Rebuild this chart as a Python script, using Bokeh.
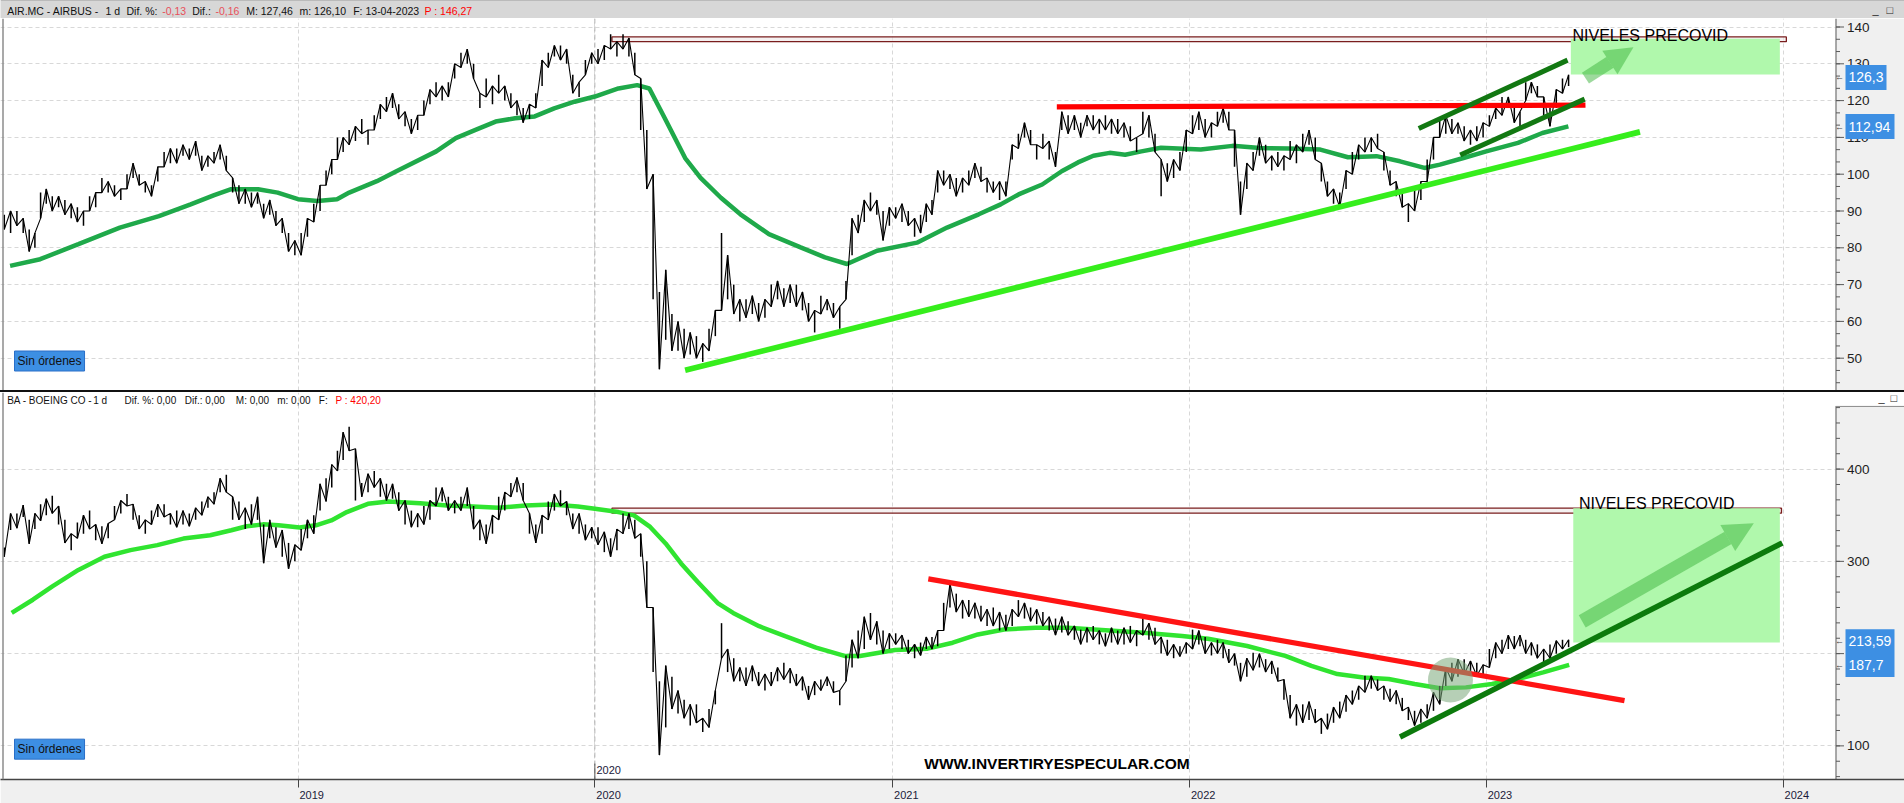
import numpy as np
import pandas as pd
from bokeh.plotting import figure
from bokeh.layouts import column
from bokeh.models import (Range1d, FixedTicker, CustomJSTickFormatter, Label, Arrow,
                          NormalHead, Span, Spacer)
from bokeh.core.properties import value
from bokeh.embed import file_html
from bokeh.resources import INLINE

# ---------------- weekly price ranges (4 values per month from Jan 2018, last 2 = early Apr 2023)
air_low = [
    # 2018
    85, 84, 86, 84, 79, 80, 88, 92, 90, 91, 89, 88, 87, 86, 90, 91,
    95, 95, 94, 93, 96, 99, 97, 95, 94, 98, 102, 103, 103, 105, 104, 105,
    101, 102, 103, 104, 101, 95, 92, 92, 91, 92, 88, 89, 86, 84, 79, 78,
    # 2019
    78, 83, 87, 90, 97, 100, 104, 106, 108, 109, 111, 108, 112, 115, 117, 118,
    115, 113, 111, 112, 116, 119, 121, 120, 121, 126, 129, 130, 126, 118, 121, 119,
    122, 120, 118, 116, 114, 115, 118, 124, 129, 132, 131, 130, 122, 121, 127, 130,
    # 2020
    130, 131, 134, 132, 134, 132, 127, 112, 96, 66, 47, 55, 52, 52, 50, 51,
    50, 49, 52, 56, 63, 66, 62, 60, 61, 62, 60, 61, 64, 66, 64, 65,
    64, 63, 60, 57, 62, 63, 61, 58, 66, 78, 84, 87, 90, 89, 82, 86,
    # 2021
    88, 87, 86, 83, 84, 87, 89, 95, 97, 96, 94, 95, 97, 99, 98, 95,
    95, 93, 94, 104, 107, 110, 108, 104, 107, 104, 102, 112, 111, 112, 110, 113,
    112, 111, 112, 111, 111, 110, 109, 106, 111, 110, 106, 94, 98, 99, 101, 106,
    # 2022
    111, 112, 110, 110, 113, 114, 112, 102, 89, 96, 101, 105, 103, 101, 102, 101,
    104, 103, 106, 108, 104, 98, 94, 92, 91, 96, 100, 104, 106, 106, 107, 101,
    97, 94, 91, 87, 90, 93, 98, 104, 110, 111, 111, 111, 109, 108, 109, 110,
    # 2023
    113, 115, 116, 118, 114, 113, 120, 122, 121, 116, 113, 118, 122, 124,
]
air_high = [
    # 2018
    89, 90, 90, 88, 85, 84, 95, 96, 94, 94, 93, 92, 91, 90, 94, 95,
    99, 98, 97, 96, 100, 103, 100, 98, 97, 102, 106, 107, 107, 108, 107, 109,
    105, 105, 106, 108, 105, 99, 97, 96, 95, 95, 92, 93, 90, 88, 84, 82,
    # 2019
    84, 88, 92, 97, 101, 104, 110, 110, 112, 113, 115, 112, 116, 119, 121, 122,
    119, 117, 115, 116, 120, 123, 125, 124, 125, 130, 133, 134, 130, 122, 126, 124,
    127, 124, 122, 120, 118, 119, 122, 131, 133, 135, 135, 134, 127, 125, 131, 133,
    # 2020
    134, 135, 138, 136, 138, 137, 133, 126, 112, 100, 68, 74, 62, 60, 58, 57,
    56, 54, 58, 63, 84, 78, 70, 66, 66, 67, 65, 66, 70, 71, 69, 70,
    70, 68, 65, 63, 67, 66, 65, 64, 71, 88, 89, 93, 95, 93, 90, 91,
    # 2021
    91, 92, 90, 88, 89, 92, 93, 101, 101, 100, 99, 99, 101, 103, 102, 99,
    98, 98, 98, 108, 111, 114, 112, 108, 111, 109, 106, 117, 116, 116, 114, 116,
    116, 115, 116, 115, 115, 114, 113, 110, 117, 116, 111, 104, 103, 104, 106, 112,
    # 2022
    116, 117, 115, 114, 117, 118, 117, 112, 98, 103, 106, 110, 108, 105, 106, 105,
    109, 108, 111, 112, 110, 103, 98, 96, 95, 101, 106, 108, 110, 110, 111, 106,
    101, 98, 96, 92, 96, 98, 104, 110, 115, 116, 115, 114, 113, 112, 113, 114,
    # 2023
    116, 118, 121, 121, 118, 117, 125, 125, 124, 121, 118, 123, 126, 127,
]
ba_low = [
    # 2018
    305, 334, 336, 348, 319, 335, 344, 350, 352, 340, 320, 312, 325, 330, 335, 323,
    319, 325, 345, 352, 360, 345, 335, 330, 340, 348, 348, 340, 337, 340, 338, 345,
    350, 358, 362, 375, 375, 345, 345, 335, 340, 345, 298, 325, 315, 305, 292, 300,
    # 2019
    312, 325, 330, 355, 365, 380, 398, 410, 420, 366, 370, 375, 380, 370, 366, 368,
    355, 340, 337, 337, 340, 345, 360, 365, 355, 352, 355, 360, 335, 323, 319, 330,
    345, 355, 370, 375, 366, 330, 320, 330, 345, 355, 360, 350, 335, 330, 323, 325,
    # 2020
    318, 310, 305, 312, 330, 335, 325, 305, 250, 180, 90, 120, 140, 135, 130, 122,
    125, 115, 120, 145, 195, 180, 170, 170, 165, 170, 165, 160, 165, 170, 172, 168,
    165, 160, 150, 155, 160, 165, 158, 144, 170, 185, 195, 205, 215, 210, 200, 205,
    # 2021
    210, 205, 200, 195, 198, 205, 205, 208, 225, 250, 245, 238, 240, 238, 235, 230,
    230, 225, 225, 230, 240, 238, 235, 232, 230, 225, 220, 223, 220, 215, 210, 212,
    215, 210, 208, 212, 210, 210, 212, 208, 220, 215, 210, 200, 198, 195, 197, 200,
    # 2022
    205, 210, 200, 198, 200, 195, 190, 187, 170, 175, 182, 185, 180, 178, 170, 150,
    130, 122, 125, 128, 125, 113, 118, 125, 130, 137, 145, 150, 158, 162, 160, 150,
    148, 145, 138, 128, 122, 125, 130, 138, 145, 165, 170, 175, 178, 176, 176, 175,
    # 2023
    185, 195, 200, 205, 205, 208, 200, 198, 195, 190, 195, 200, 205, 207,
]
ba_high = [
    # 2018
    315, 352, 352, 361, 345, 352, 362, 368, 371, 360, 345, 330, 342, 350, 355, 340,
    338, 341, 360, 366, 373, 362, 350, 345, 355, 362, 362, 352, 355, 355, 352, 358,
    365, 370, 375, 390, 394, 370, 365, 358, 362, 370, 340, 345, 337, 334, 320, 318,
    # 2019
    335, 345, 350, 384, 390, 405, 420, 440, 446, 422, 385, 395, 398, 390, 384, 384,
    375, 366, 355, 352, 360, 366, 380, 380, 370, 366, 370, 380, 360, 345, 340, 350,
    370, 375, 385, 391, 385, 352, 340, 350, 365, 373, 377, 365, 352, 352, 340, 337,
    # 2020
    337, 332, 325, 335, 352, 352, 345, 330, 300, 250, 170, 187, 175, 160, 150, 145,
    145, 130, 140, 160, 233, 205, 195, 185, 185, 187, 180, 178, 180, 185, 190, 184,
    178, 175, 165, 170, 172, 175, 170, 160, 198, 215, 225, 240, 244, 235, 225, 222,
    # 2021
    222, 220, 215, 210, 212, 218, 218, 225, 255, 276, 265, 258, 258, 255, 252, 248,
    250, 245, 242, 248, 258, 255, 250, 248, 245, 240, 238, 240, 235, 230, 226, 228,
    230, 225, 222, 228, 225, 228, 230, 225, 240, 233, 228, 218, 215, 210, 208, 212,
    # 2022
    226, 225, 218, 212, 215, 212, 205, 200, 190, 195, 201, 200, 194, 192, 185, 172,
    155, 145, 145, 148, 140, 130, 135, 142, 148, 155, 160, 165, 176, 176, 172, 165,
    162, 160, 152, 142, 138, 140, 145, 158, 165, 185, 190, 194, 194, 192, 190, 188,
    # 2023
    205, 212, 215, 220, 219, 220, 215, 212, 210, 205, 210, 214, 215, 215,
]

# ---------------- 200-session moving averages
air_ma_dates = ["2018-01-12", "2018-02-18", "2018-04-06", "2018-05-27", "2018-07-14", "2018-08-22",
                "2018-09-20", "2018-10-10", "2018-11-13", "2018-12-07",
                "2019-01-01", "2019-01-25", "2019-02-18", "2019-03-05", "2019-04-08", "2019-05-02",
                "2019-06-20", "2019-07-14", "2019-08-08", "2019-09-01", "2019-09-25", "2019-10-19",
                "2019-11-12", "2019-12-07",
                "2020-01-01", "2020-01-30", "2020-02-22", "2020-03-08", "2020-03-27", "2020-04-21",
                "2020-05-10", "2020-06-04", "2020-06-28", "2020-08-02", "2020-09-10", "2020-10-10",
                "2020-11-06", "2020-12-13",
                "2021-01-31", "2021-03-09", "2021-04-17", "2021-05-14", "2021-06-05", "2021-07-04",
                "2021-07-28", "2021-08-17", "2021-09-05", "2021-09-25", "2021-10-14", "2021-11-03",
                "2021-11-27",
                "2022-01-15", "2022-02-23", "2022-03-29", "2022-05-03", "2022-06-11", "2022-07-15",
                "2022-08-19", "2022-09-17", "2022-10-17", "2022-11-05", "2022-12-04",
                "2023-01-01", "2023-02-09", "2023-03-11", "2023-04-12"]
air_ma = [75.1, 76.9, 81.0, 85.5, 88.6, 91.8, 94.3, 95.9, 95.9, 95.0,
          93.2, 92.7, 93.2, 95.0, 98.1, 100.8, 106.2, 109.8, 112.1, 114.3, 115.2, 115.7, 117.9, 119.7,
          121.1, 123.3, 124.2, 123.3, 115.2, 104.4, 99.0, 93.6, 89.1, 83.7, 80.1, 77.4, 75.6, 79.2,
          81.4, 85.5, 89.1, 91.8, 94.5, 97.2, 100.8, 103.2, 105.0, 105.8, 105.3, 106.2, 107.2,
          106.7, 107.7, 107.1, 107.0, 106.7, 104.6, 104.9, 103.5, 101.7, 102.6, 104.4,
          106.2, 108.5, 111.2, 113.0]
ba_ma_dates = ["2018-01-14", "2018-02-09", "2018-03-05", "2018-04-06", "2018-05-08", "2018-06-09",
               "2018-07-12", "2018-08-13", "2018-09-15", "2018-10-11", "2018-10-30", "2018-11-19",
               "2018-12-08",
               "2019-01-03", "2019-01-23", "2019-02-11", "2019-03-02", "2019-03-28", "2019-04-22",
               "2019-05-31", "2019-07-03", "2019-08-04", "2019-09-05", "2019-10-08", "2019-11-09",
               "2019-12-11",
               "2020-01-01", "2020-01-30", "2020-02-18", "2020-03-09", "2020-03-28", "2020-04-16",
               "2020-05-06", "2020-05-31", "2020-06-19", "2020-07-21", "2020-08-22", "2020-09-29",
               "2020-11-03", "2020-11-22",
               "2021-01-04", "2021-02-13", "2021-03-16", "2021-04-16", "2021-05-18", "2021-06-26",
               "2021-08-04", "2021-09-20", "2021-11-06", "2021-12-23",
               "2022-01-24", "2022-03-13", "2022-04-29", "2022-05-31", "2022-07-02", "2022-08-03",
               "2022-09-03", "2022-10-05", "2022-11-05", "2022-12-07",
               "2023-01-08", "2023-02-08", "2023-03-12", "2023-04-13"]
ba_ma = [244.1, 258.4, 272.8, 290.7, 305.0, 312.2, 317.6, 324.7, 328.3, 333.7, 338.0, 340.1, 339.1,
         336.6, 339.1, 344.4, 353.4, 362.4, 364.9, 363.1, 360.6, 359.5, 358.1, 360.6, 361.6, 359.5,
         357.0, 353.4, 349.8, 337.3, 319.4, 297.8, 278.1, 254.8, 244.1, 229.7, 219.0, 206.5, 197.5, 197.5,
         204.0, 205.4, 211.8, 220.8, 226.2, 228.0, 228.0, 225.4, 222.6, 219.0,
         216.1, 208.2, 197.5, 186.7, 177.8, 174.2, 172.4, 167.0, 162.4, 163.4,
         167.0, 172.4, 179.6, 187.8]

# ---------------- hand-drawn studies (dates, prices)
precovid_start = "2020-01-22"
air_precovid = [136.0, 137.3]
air_precovid_end = "2024-01-05"
ba_precovid = [352.2, 357.6]
ba_precovid_end = "2023-12-30"
air_target = ["2023-04-15", "2023-12-28"]
air_target_y = [127.1, 136.8]
ba_target = ["2023-04-18", "2023-12-28"]
ba_target_y = [212.0, 357.6]
air_resist_x, air_resist_y = ["2021-07-22", "2023-05-03"], [118.3, 118.75]
air_support_x, air_support_y = ["2020-04-21", "2023-07-09"], [46.7, 111.5]
air_chan_hi_x, air_chan_hi_y = ["2022-10-10", "2023-04-11"], [112.4, 131.0]
air_chan_lo_x, air_chan_lo_y = ["2022-11-30", "2023-05-02"], [105.2, 120.4]
ba_resist_x, ba_resist_y = ["2021-02-14", "2023-06-20"], [281.1, 149.0]
ba_support_x, ba_support_y = ["2022-09-17", "2023-12-31"], [109.6, 319.9]
air_arrow_x, air_arrow_y = ["2023-05-03", "2023-07-01"], [126.1, 134.5]
ba_arrow_x, ba_arrow_y = ["2023-04-29", "2023-11-26"], [235.0, 341.4]
ba_circle = ["2022-11-18", 171.4]
air_note = ["2023-04-17", 137.7]
ba_note = ["2023-04-25", 363.0]
web_note = ["2021-02-09", 80.8]
air_prices = [126.3, 112.94]
air_price_lbl = ["126,3", "112,94"]
ba_prices = [213.59, 187.7]
ba_price_lbl = ["213,59", "187,7"]
air_ticks = list(range(40, 141, 10))
ba_ticks = [100, 200, 300, 400]
years = list(range(2019, 2025))

air_hdr_text = ["AIR.MC - AIRBUS -", "1 d", "Dif. %:", "-0,13", "Dif.:", "-0,16",
                "M: 127,46", "m: 126,10", "F: 13-04-2023", "P : 146,27"]
air_hdr_px = [6.7, 105, 126, 161.7, 191.7, 215, 245.7, 299, 352.7, 424]
air_hdr_col = ["#111111", "#111111", "#111111", "#e8505a", "#111111", "#e8505a",
               "#111111", "#111111", "#111111", "#ff0000"]
ba_hdr_text = ["BA - BOEING CO -", "1 d", "Dif. %: 0,00", "Dif.: 0,00", "M: 0,00", "m: 0,00",
               "F:", "P : 420,20"]
ba_hdr_px = [6.7, 92.7, 124, 184.3, 235.3, 276.7, 318.3, 335]
ba_hdr_col = ["#111111"] * 7 + ["#ff0000"]

FONT = "Liberation Sans"


def ms(d):
    return pd.Timestamp(d).value / 1e6


def weekly_x(n):
    months = pd.date_range("2018-01-01", periods=(n + 3) // 4, freq="MS")
    return [ms(months[i // 4] + pd.Timedelta(days=(i % 4 + 0.5) * months[i // 4].days_in_month / 4))
            for i in range(n)]


# reference-pixel helpers (interface chrome only)
T0 = ms("2019-01-01")
PXD = 0.81331
DAY = 86400000.0


def X(px):
    return T0 + (px - 297.5) / PXD * DAY


def Yt(py):
    return 140 - (py - 26.5) / 3.68


def Yb(py):
    return 400 - (py - 469) / 0.9273


year_ms = [ms(f"{y}-01-01") for y in years]
W = 1904

# ---------------- header bar
hdr = figure(width=W, height=18, x_range=Range1d(0, W), y_range=Range1d(0, 18), title=None,
             toolbar_location=None, output_backend="svg", min_border=0,
             x_axis_location=None, y_axis_location=None,
             background_fill_color="#d7d7d7", border_fill_color="#d7d7d7", outline_line_color=None)
hdr.grid.visible = False
hdr.text(x=air_hdr_px, y=[8] * len(air_hdr_px), text=air_hdr_text,
         text_color=air_hdr_col, text_font=value(FONT), text_font_size="10.5px",
         text_baseline="middle", text_align="left")
hdr.segment(x0=[0, 0], y0=[0, 18], x1=[W, W], y1=[0, 18], line_color=["#b0b0b0", "#8a8a8a"], line_width=1)
hdr.text(x=[1872, 1886], y=[9, 9], text=["_", "\u25a1"], text_font=value(FONT), text_font_size="11px",
         text_color="#222222", text_baseline="middle")

xr = Range1d(X(0), X(1904))


def style(p):
    p.xgrid.ticker = FixedTicker(ticks=year_ms)
    p.xgrid.grid_line_color = "#d8d8d8"
    p.xgrid.grid_line_dash = "4 3"
    p.ygrid.grid_line_color = "#d8d8d8"
    p.ygrid.grid_line_dash = "4 3"
    p.add_layout(Span(location=ms("2020-01-01"), dimension="height", line_color="#b2b2b2",
                      line_dash="5 3", line_width=1, level="underlay"))
    p.add_layout(Span(location=X(2.5), dimension="height", line_color="#8c8c8c", line_width=1.5))


def right_axis(p, majors, minors, lo, hi):
    majors = [m for m in majors if lo <= m <= hi]
    minors = [m for m in minors if lo <= m <= hi]
    p.quad(left=[X(1835)], right=[X(1910)], bottom=[lo], top=[hi], fill_color="#f0f0f0", line_color=None)
    p.segment(x0=[X(1835.5)], y0=[lo], x1=[X(1835.5)], y1=[hi], line_color="#5a5a5a", line_width=1)
    p.segment(x0=[X(1835.5)] * len(minors), y0=minors, x1=[X(1839.5)] * len(minors), y1=minors,
              line_color="#5a5a5a", line_width=1)
    p.segment(x0=[X(1835.5)] * len(majors), y0=majors, x1=[X(1843.5)] * len(majors), y1=majors,
              line_color="#5a5a5a", line_width=1)
    p.text(x=[X(1846.5)] * len(majors), y=majors, text=[str(m) for m in majors], text_font=value(FONT),
           text_font_size="13.5px", text_color="#1e1e1e", text_baseline="middle", text_align="left")


def price_boxes(p, vals, labels, rights, half):
    p.quad(left=[X(1845)] * len(vals), right=[X(r) for r in rights],
           bottom=[v - half for v in vals], top=[v + half for v in vals],
           fill_color="#3d8fe3", line_color=None)
    p.text(x=[X(1848)] * len(vals), y=vals, text=labels, text_font=value(FONT), text_font_size="14px",
           text_color="white", text_baseline="middle", text_align="left")
    p.text(x=[X(1839)] * len(vals), y=vals, text=["\u2190"] * len(vals), text_font=value(FONT),
           text_font_size="9px", text_color="#444444", text_baseline="middle", text_align="center")


def price_bars(p, low, high):
    n = min(len(low), len(high))
    xs = weekly_x(n)
    p.segment(x0=xs, y0=low[:n], x1=xs, y1=high[:n], line_color="black", line_width=1.5)
    zig = [low[i] if i % 2 == 0 else high[i] for i in range(n)]
    p.line(xs, zig, line_color="black", line_width=1.1)


def tag(p, x, y, txt):
    p.add_layout(Label(x=x, y=y, text=txt, text_font=FONT, text_font_size="12px",
                       text_color="#111111", text_baseline="middle", text_align="left",
                       background_fill_color="#3d8fe3", border_line_color="#2a6fc8", padding=3))


def arrow(p, xs, ys, width, head):
    p.add_layout(Arrow(end=NormalHead(size=head, fill_color="#3cb43c", fill_alpha=0.5, line_color=None),
                       x_start=ms(xs[0]), y_start=ys[0], x_end=ms(xs[1]), y_end=ys[1],
                       line_color="#3cb43c", line_alpha=0.5, line_width=width))


# ---------------- AIRBUS panel
y1lo, y1hi = Yt(390), Yt(18)
p1 = figure(width=W, height=372, x_range=xr, y_range=Range1d(y1lo, y1hi), x_axis_type="datetime",
            x_axis_location=None, y_axis_location=None, title=None, toolbar_location=None,
            output_backend="svg", min_border=0, border_fill_color="#f0f0f0", outline_line_color=None)
style(p1)
p1.ygrid.ticker = FixedTicker(ticks=air_ticks)

p1.quad(left=[ms(precovid_start)], right=[ms(air_precovid_end)], bottom=[air_precovid[0]],
        top=[air_precovid[1]], fill_color="#efe8e8", fill_alpha=0.6, line_color="#7a1e1e", line_width=1.3)
p1.quad(left=[ms(air_target[0])], right=[ms(air_target[1])], bottom=[air_target_y[0]],
        top=[air_target_y[1]], fill_color="#b0f8ac", line_color=None)
p1.line([ms(d) for d in air_ma_dates], air_ma, line_color="#1fa94a", line_width=4.5)
price_bars(p1, air_low, air_high)
p1.line([ms(d) for d in air_support_x], air_support_y, line_color="#36ee1c", line_width=5.7)
p1.line([ms(d) for d in air_resist_x], air_resist_y, line_color="#ff0000", line_width=5.3)
p1.line([ms(d) for d in air_chan_hi_x], air_chan_hi_y, line_color="#127812", line_width=5)
p1.line([ms(d) for d in air_chan_lo_x], air_chan_lo_y, line_color="#127812", line_width=5)
arrow(p1, air_arrow_x, air_arrow_y, 13, 28)
p1.text(x=[ms(air_note[0])], y=[air_note[1]], text=["NIVELES PRECOVID"], text_font=value(FONT),
        text_font_size="16px", text_color="#000000", text_baseline="alphabetic")
tag(p1, X(14), Yt(360.5), "Sin órdenes")
right_axis(p1, air_ticks, list(np.arange(40, 142.1, 10 / 3)), y1lo, y1hi)
price_boxes(p1, air_prices, air_price_lbl, [1886, 1894], 12.5 / 3.68)

sep = Spacer(width=W, height=2, styles={"background-color": "#111111"})

# ---------------- BOEING panel
y2lo, y2hi = Yb(781), Yb(392)
p2 = figure(width=W, height=411, x_range=xr, y_range=Range1d(y2lo, y2hi), x_axis_type="datetime",
            x_axis_location="below", y_axis_location=None, title=None, toolbar_location=None,
            output_backend="svg", min_border_left=0, min_border_right=0, min_border_top=0,
            min_border_bottom=22, border_fill_color="#f0f0f0", outline_line_color=None)
style(p2)
p2.ygrid.ticker = FixedTicker(ticks=ba_ticks)
xa = p2.xaxis[0]
xa.ticker = FixedTicker(ticks=year_ms)
xa.formatter = CustomJSTickFormatter(code="return '\\u00a0'.repeat(9) + new Date(tick).getUTCFullYear();")
xa.major_tick_in = 0
xa.major_tick_out = 8
xa.axis_line_color = "#444444"
xa.axis_line_width = 1.5
xa.major_tick_line_color = "#444444"
xa.major_label_text_font = FONT
xa.major_label_text_font_size = "11px"
xa.major_label_text_color = "#1b1b3a"
xa.major_label_standoff = 1

p2.quad(left=[ms(precovid_start)], right=[ms(ba_precovid_end)], bottom=[ba_precovid[0]],
        top=[ba_precovid[1]], fill_color="#efe8e8", fill_alpha=0.6, line_color="#7a1e1e", line_width=1.3)
p2.quad(left=[ms(ba_target[0])], right=[ms(ba_target[1])], bottom=[ba_target_y[0]],
        top=[ba_target_y[1]], fill_color="#b0f8ac", line_color=None)
p2.line([ms(d) for d in ba_ma_dates], ba_ma, line_color="#30e430", line_width=4.5)
price_bars(p2, ba_low, ba_high)
p2.line([ms(d) for d in ba_resist_x], ba_resist_y, line_color="#ff1414", line_width=5.3)
p2.line([ms(d) for d in ba_support_x], ba_support_y, line_color="#0c7a0c", line_width=5.5)
p2.scatter(x=[ms(ba_circle[0])], y=[ba_circle[1]], size=45, marker="circle",
           fill_color="#7aa87a", fill_alpha=0.55, line_color=None)
arrow(p2, ba_arrow_x, ba_arrow_y, 14, 30)
p2.text(x=[ms(ba_note[0])], y=[ba_note[1]], text=["NIVELES PRECOVID"], text_font=value(FONT),
        text_font_size="16px", text_color="#000000", text_baseline="alphabetic")
p2.text(x=[ms(web_note[0])], y=[web_note[1]], text=["WWW.INVERTIRYESPECULAR.COM"],
        text_font=value(FONT), text_font_size="15.5px", text_font_style="bold",
        text_color="#000000", text_baseline="alphabetic")
p2.text(x=[X(v) for v in ba_hdr_px], y=[Yb(400)] * len(ba_hdr_px), text=ba_hdr_text,
        text_color=ba_hdr_col, text_font=value(FONT), text_font_size="10px",
        text_baseline="middle", text_align="left")
p2.segment(x0=[ms("2020-01-01")], y0=[Yb(765)], x1=[ms("2020-01-01")], y1=[Yb(781)],
           line_color="#555555", line_width=1)
p2.text(x=[X(596)], y=[Yb(771.5)], text=["2020"], text_font=value(FONT), text_font_size="11px",
        text_color="#1b1b3a", text_baseline="middle")
tag(p2, X(14), Yb(750.5), "Sin órdenes")
right_axis(p2, ba_ticks, list(np.arange(0, 490, 100 / 6)), y2lo, Yb(406))
p2.quad(left=[X(1835)], right=[X(1910)], bottom=[Yb(406)], top=[y2hi], fill_color="white", line_color=None)
p2.segment(x0=[X(1835)], y0=[Yb(406)], x1=[X(1910)], y1=[Yb(406)], line_color="#8a8a8a", line_width=1)
p2.text(x=[X(1878), X(1890)], y=[Yb(398)] * 2, text=["_", "\u25a1"], text_font=value(FONT),
        text_font_size="11px", text_color="#222222", text_baseline="middle")
price_boxes(p2, ba_prices, ba_price_lbl, [1894, 1894], 12.0 / 0.9273)

layout = column(hdr, p1, sep, p2)
open("out.html", "w").write(file_html(layout, INLINE, title="AIRBUS vs BOEING"))
